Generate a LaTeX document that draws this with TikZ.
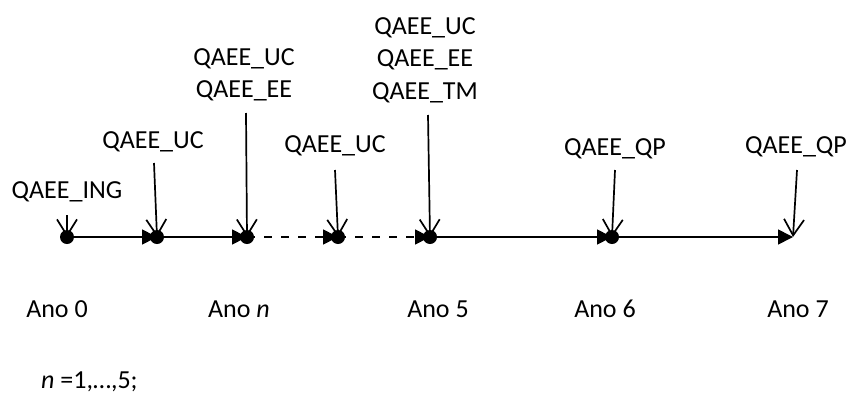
\documentclass[tikz,border=0pt]{standalone}
\usepackage{fontspec}
\setmainfont{Carlito}
\usetikzlibrary{arrows.meta}
\begin{document}
\begin{tikzpicture}[x=1pt,y=-1pt,
txt/.style = {inner sep=0pt,font=\fontsize{26}{32.5}\selectfont},
lbl/.style = {txt,anchor=base},
grp/.style = {txt,anchor=north,align=center},
dot/.style = {circle,fill,inner sep=0pt,minimum size=14pt},
tl/.style = {draw,line width=1.7pt,-{Triangle[length=15pt,width=15pt]}},
tld/.style = {tl,dash pattern=on 8pt off 9pt},
evt/.style = {draw,line width=1.7pt,-{Straight Barb[length=16pt,width=20pt]}}
]
  \useasboundingbox (0,0) rectangle (848,394);

  % years on the time line
  \node[dot] (y0) at (67,237) {};
  \node[dot] (y1) at (157,237) {};
  \node[dot] (yn) at (247,237) {};
  \node[dot] (y4) at (338,237) {};
  \node[dot] (y5) at (430,237) {};
  \node[dot] (y6) at (612,237) {};
  \coordinate (y7) at (793,237);

  \path[tl] (y0.center)--(y1.center);
  \path[tl] (y1.center)--(yn.center);
  \path[tld] (yn.center)--(y4.center);
  \path[tld] (y4.center)--(y5.center);
  \path[tl] (y5.center)--(y6.center);
  \path[tl] (y6.center)--(y7);

  % events
  \node[lbl] (ing) at (67,198) {QAEE\_ING};
  \node[lbl] (uc1) at (153,148) {QAEE\_UC};
  \node[grp] (ucee) at (244,48) {QAEE\_UC\\QAEE\_EE};
  \node[lbl] (uc2) at (335,152) {QAEE\_UC};
  \node[grp] (uceetm) at (425,17) {QAEE\_UC\\QAEE\_EE\\QAEE\_TM};
  \node[lbl] (qp1) at (615,155) {QAEE\_QP};
  \node[lbl] (qp2) at (796,153) {QAEE\_QP};

  \coordinate (s0) at (67,215);
  \coordinate (s1) at (154,163);
  \coordinate (s2) at (246,113);
  \coordinate (s3) at (335,170);
  \coordinate (s4) at (428,115);
  \coordinate (s5) at (615,170);
  \coordinate (s6) at (797,170);

  \path[evt] (s0)--(y0.center);
  \path[evt] (s1)--(y1.center);
  \path[evt] (s2)--(yn.center);
  \path[evt] (s3)--(y4.center);
  \path[evt] (s4)--(y5.center);
  \path[evt] (s5)--(y6.center);
  \path[evt] (s6)--(y7);

  % year labels
  \node[lbl] (a0) at (57,317) {Ano 0};
  \node[lbl] (an) at (239,317) {Ano \textit{n}};
  \node[lbl] (a5) at (438,317) {Ano 5};
  \node[lbl] (a6) at (605,317) {Ano 6};
  \node[lbl] (a7) at (798,317) {Ano 7};

  \node[txt,anchor=base west] (nrange) at (41,388) {\textit{n} =1,…,5;};
\end{tikzpicture}
\end{document}
